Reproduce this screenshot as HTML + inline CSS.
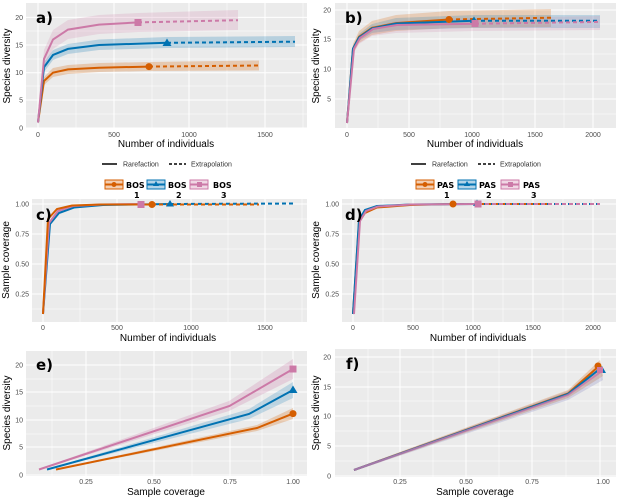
<!DOCTYPE html>
<html><head><meta charset="utf-8"><style>
body{margin:0;background:#fff}
svg{display:block;font-family:"Liberation Sans",sans-serif}
.t{font-size:7px;fill:#4d4d4d}
.at{font-size:10px;fill:#000}
.lb{font-size:15px;font-weight:bold;fill:#000;font-family:"DejaVu Sans",sans-serif}
.bg{fill:#ebebeb}
.g{stroke:#fff;stroke-width:1}
.gm{stroke:#fff;stroke-width:.5}
.o{stroke:#D55E00}.b{stroke:#0072B2}.p{stroke:#CC79A7}
path.l{fill:none;stroke-width:2}
.d{stroke-dasharray:4,3}
</style></head><body>
<svg width="619" height="503" viewBox="0 0 619 503">
<!-- Panel a -->
<rect class="bg" x="26" y="3" width="281" height="125"/>
<g class="gm"><line x1="26" x2="307" y1="114" y2="114"/><line x1="26" x2="307" y1="86" y2="86"/><line x1="26" x2="307" y1="59" y2="59"/><line x1="26" x2="307" y1="31" y2="31"/><line x1="76" x2="76" y1="3" y2="128"/><line x1="152" x2="152" y1="3" y2="128"/><line x1="227" x2="227" y1="3" y2="128"/><line x1="303" x2="303" y1="3" y2="128"/></g>
<g class="g"><line x1="26" x2="307" y1="128" y2="128"/><line x1="26" x2="307" y1="100" y2="100"/><line x1="26" x2="307" y1="72.7" y2="72.7"/><line x1="26" x2="307" y1="45" y2="45"/><line x1="26" x2="307" y1="17.4" y2="17.4"/><line x1="38" x2="38" y1="3" y2="128"/><line x1="114" x2="114" y1="3" y2="128"/><line x1="189" x2="189" y1="3" y2="128"/><line x1="265" x2="265" y1="3" y2="128"/></g>
<path d="M38,120 L44,77 L53,68 L68,65 L99,63 L149,62 L259,60.5 L259,70.5 L149,71 L99,72 L68,74 L53,77 L44,85 L38,124Z" fill="#D55E00" opacity=".25"/>
<path d="M38,120 L44,62 L53,50 L68,44 L99,39.5 L167,37 L295,36 L295,47 L167,48 L99,50 L68,54 L53,60 L44,72 L38,124Z" fill="#0072B2" opacity=".22"/>
<path d="M38,120 L44,50 L53,30 L68,20 L99,15 L138,13 L238,10 L238,30 L138,32 L99,34 L68,39 L53,49 L44,67 L38,124Z" fill="#CC79A7" opacity=".2"/>
<path class="l o" d="M38,122.5 L44,81 L53,72.7 L68,69.4 L99,67.7 L149,66.6"/><path class="l o d" d="M149,66.6 L259,65.5"/>
<path class="l b" d="M38,122.5 L44,67.2 L53,55 L68,48.9 L99,45 L167,42.8"/><path class="l b d" d="M167,42.8 L295,41.7"/>
<path class="l p" d="M38,122.5 L44,58.9 L53,39.5 L68,29.6 L99,24.6 L138,22.4"/><path class="l p d" d="M138,22.4 L238,20.2"/>
<circle cx="149" cy="66.6" r="3.5" fill="#D55E00"/><path d="M167,38.5 L171.5,46 L162.5,46Z" fill="#0072B2"/><rect x="134.5" y="19" width="7" height="7" fill="#CC79A7"/>
<text class="lb" x="36" y="23">a)</text>
<g class="t" text-anchor="end"><text x="23" y="130.5">0</text><text x="23" y="102.5">5</text><text x="23" y="75">10</text><text x="23" y="47.5">15</text><text x="23" y="20">20</text></g>
<g class="t" text-anchor="middle"><text x="38" y="137">0</text><text x="114" y="137">500</text><text x="189" y="137">1000</text><text x="265" y="137">1500</text></g>
<text class="at" x="166" y="147" text-anchor="middle">Number of individuals</text>
<text class="at" transform="translate(10,66) rotate(-90)" text-anchor="middle">Species diversity</text>
<!-- legend a -->
<line x1="102" x2="117" y1="164" y2="164" stroke="#000" stroke-width="1.5"/><text class="t" x="123" y="166.5" style="fill:#333">Rarefaction</text>
<line x1="169" x2="186" y1="164" y2="164" stroke="#000" stroke-width="1.5" stroke-dasharray="3,2"/><text class="t" x="191" y="166.5" style="fill:#333">Extrapolation</text>
<g font-size="8" font-weight="bold" font-family="DejaVu Sans,sans-serif">
<rect x="105" y="180" width="18" height="9" fill="#D55E00" fill-opacity=".3" stroke="#D55E00"/><line x1="105" x2="123" y1="184.5" y2="184.5" stroke="#D55E00" stroke-width="2"/><circle cx="114" cy="184.5" r="2.5" fill="#D55E00"/><text x="126" y="188">BOS</text><text x="134" y="198">1</text>
<rect x="147" y="180" width="18" height="9" fill="#0072B2" fill-opacity=".3" stroke="#0072B2"/><line x1="147" x2="165" y1="184.5" y2="184.5" stroke="#0072B2" stroke-width="2"/><path d="M156,181 L159,186 L153,186Z" fill="#0072B2"/><text x="168" y="188">BOS</text><text x="176" y="198">2</text>
<rect x="190" y="180" width="18" height="9" fill="#CC79A7" fill-opacity=".3" stroke="#CC79A7"/><line x1="190" x2="208" y1="184.5" y2="184.5" stroke="#CC79A7" stroke-width="2"/><rect x="197" y="182" width="5" height="5" fill="#CC79A7"/><text x="213" y="188">BOS</text><text x="221" y="198">3</text>
</g>
<!-- Panel b -->
<rect class="bg" x="335" y="3" width="281" height="125"/>
<g class="gm"><line x1="335" x2="616" y1="114" y2="114"/><line x1="335" x2="616" y1="84" y2="84"/><line x1="335" x2="616" y1="54" y2="54"/><line x1="335" x2="616" y1="24" y2="24"/><line x1="378" x2="378" y1="3" y2="128"/><line x1="440" x2="440" y1="3" y2="128"/><line x1="503" x2="503" y1="3" y2="128"/><line x1="564" x2="564" y1="3" y2="128"/></g>
<g class="g"><line x1="335" x2="616" y1="99" y2="99"/><line x1="335" x2="616" y1="69" y2="69"/><line x1="335" x2="616" y1="39" y2="39"/><line x1="335" x2="616" y1="10" y2="10"/><line x1="347" x2="347" y1="3" y2="128"/><line x1="409" x2="409" y1="3" y2="128"/><line x1="472" x2="472" y1="3" y2="128"/><line x1="535" x2="535" y1="3" y2="128"/><line x1="593" x2="593" y1="3" y2="128"/></g>
<path d="M347,121 L353,44 L359,31 L372,21 L396,15 L449,11 L551,9 L551,27 L449,28 L396,31 L372,35 L359,43 L353,54 L347,124Z" fill="#D55E00" opacity=".22"/>
<path d="M347,121 L353,46 L359,34 L372,24 L396,18 L474,15 L600,15 L600,28 L474,28 L396,30 L372,33 L359,41 L353,52 L347,124Z" fill="#0072B2" opacity=".2"/>
<path d="M347,121 L353,48 L359,37 L372,27 L396,21 L475,18 L600,16 L600,30 L475,31 L396,33 L372,36 L359,44 L353,54 L347,124Z" fill="#CC79A7" opacity=".18"/>
<path class="l o" d="M347,123 L353,48.7 L359,36.8 L372,27.8 L396,23.1 L449,19.5"/><path class="l o d" d="M449,19.5 L551,17.7"/>
<path class="l b" d="M347,123 L353,48.7 L359,37.5 L372,28.5 L396,23.5 L474,20.7"/><path class="l b d" d="M474,20.7 L600,20.7"/>
<path class="l p" d="M347,123 L354,48.7 L360,38 L373,29 L397,25 L475,23.7"/><path class="l p d" d="M475,23.7 L600,21.9"/>
<circle cx="449" cy="19.5" r="3.5" fill="#D55E00"/><path d="M474,16.5 L478,23 L470,23Z" fill="#0072B2"/><rect x="471.5" y="20" width="7" height="7" fill="#CC79A7"/>
<text class="lb" x="345" y="23">b)</text>
<g class="t" text-anchor="end"><text x="331" y="101.5">5</text><text x="331" y="71.5">10</text><text x="331" y="41.5">15</text><text x="331" y="12.5">20</text></g>
<g class="t" text-anchor="middle"><text x="347" y="137">0</text><text x="409" y="137">500</text><text x="472" y="137">1000</text><text x="535" y="137">1500</text><text x="593" y="137">2000</text></g>
<text class="at" x="475" y="147" text-anchor="middle">Number of individuals</text>
<text class="at" transform="translate(319,66) rotate(-90)" text-anchor="middle">Species diversity</text>
<line x1="411" x2="426" y1="164" y2="164" stroke="#000" stroke-width="1.5"/><text class="t" x="432" y="166.5" style="fill:#333">Rarefaction</text>
<line x1="478" x2="495" y1="164" y2="164" stroke="#000" stroke-width="1.5" stroke-dasharray="3,2"/><text class="t" x="500" y="166.5" style="fill:#333">Extrapolation</text>
<g font-size="8" font-weight="bold" font-family="DejaVu Sans,sans-serif">
<rect x="416" y="180" width="18" height="9" fill="#D55E00" fill-opacity=".3" stroke="#D55E00"/><line x1="416" x2="434" y1="184.5" y2="184.5" stroke="#D55E00" stroke-width="2"/><circle cx="425" cy="184.5" r="2.5" fill="#D55E00"/><text x="437" y="188">PAS</text><text x="444" y="198">1</text>
<rect x="458" y="180" width="18" height="9" fill="#0072B2" fill-opacity=".3" stroke="#0072B2"/><line x1="458" x2="476" y1="184.5" y2="184.5" stroke="#0072B2" stroke-width="2"/><path d="M467,181 L470,186 L464,186Z" fill="#0072B2"/><text x="479" y="188">PAS</text><text x="486" y="198">2</text>
<rect x="501" y="180" width="18" height="9" fill="#CC79A7" fill-opacity=".3" stroke="#CC79A7"/><line x1="501" x2="519" y1="184.5" y2="184.5" stroke="#CC79A7" stroke-width="2"/><rect x="508" y="182" width="5" height="5" fill="#CC79A7"/><text x="523" y="188">PAS</text><text x="531" y="198">3</text>
</g>
<!-- Panel c -->
<rect class="bg" x="32" y="199" width="275" height="123"/>
<g class="gm"><line x1="32" x2="307" y1="309" y2="309"/><line x1="32" x2="307" y1="279" y2="279"/><line x1="32" x2="307" y1="249" y2="249"/><line x1="32" x2="307" y1="219" y2="219"/><line x1="80" x2="80" y1="199" y2="322"/><line x1="154" x2="154" y1="199" y2="322"/><line x1="228" x2="228" y1="199" y2="322"/><line x1="302" x2="302" y1="199" y2="322"/></g>
<g class="g"><line x1="32" x2="307" y1="294" y2="294"/><line x1="32" x2="307" y1="264" y2="264"/><line x1="32" x2="307" y1="234" y2="234"/><line x1="32" x2="307" y1="204" y2="204"/><line x1="43" x2="43" y1="199" y2="322"/><line x1="117" x2="117" y1="199" y2="322"/><line x1="191" x2="191" y1="199" y2="322"/><line x1="265" x2="265" y1="199" y2="322"/></g>
<path class="l b" d="M43,314 L50,224 L59,213 L74,207.5 L103,205 L170,204"/><path class="l b d" d="M170,204 L295,203.5"/>
<path class="l p" d="M43,314 L49,223 L58,211 L73,206 L102,204.5 L141,204"/>
<path class="l o" d="M43,314 L48,219 L57,209 L72,205.5 L101,204.5 L152,204.5"/><path class="l o d" d="M152,204.5 L259,204.5"/>
<circle cx="152" cy="204.5" r="3.5" fill="#D55E00"/><path d="M170,200 L174,206.5 L166,206.5Z" fill="#0072B2"/><rect x="137.5" y="201" width="7" height="7" fill="#CC79A7"/>
<text class="lb" x="36" y="220">c)</text>
<g class="t" text-anchor="end"><text x="29" y="296.5">0.25</text><text x="29" y="266.5">0.50</text><text x="29" y="236.5">0.75</text><text x="29" y="206.5">1.00</text></g>
<g class="t" text-anchor="middle"><text x="43" y="330">0</text><text x="117" y="330">500</text><text x="191" y="330">1000</text><text x="265" y="330">1500</text></g>
<text class="at" x="168" y="341" text-anchor="middle">Number of individuals</text>
<text class="at" transform="translate(9,260) rotate(-90)" text-anchor="middle">Sample coverage</text>
<!-- Panel d -->
<rect class="bg" x="342" y="199" width="274" height="123"/>
<g class="gm"><line x1="342" x2="616" y1="309" y2="309"/><line x1="342" x2="616" y1="279" y2="279"/><line x1="342" x2="616" y1="249" y2="249"/><line x1="342" x2="616" y1="219" y2="219"/><line x1="383" x2="383" y1="199" y2="322"/><line x1="443" x2="443" y1="199" y2="322"/><line x1="503" x2="503" y1="199" y2="322"/><line x1="563" x2="563" y1="199" y2="322"/></g>
<g class="g"><line x1="342" x2="616" y1="294" y2="294"/><line x1="342" x2="616" y1="264" y2="264"/><line x1="342" x2="616" y1="234" y2="234"/><line x1="342" x2="616" y1="204" y2="204"/><line x1="353" x2="353" y1="199" y2="322"/><line x1="413" x2="413" y1="199" y2="322"/><line x1="473" x2="473" y1="199" y2="322"/><line x1="533" x2="533" y1="199" y2="322"/><line x1="593" x2="593" y1="199" y2="322"/></g>
<path class="l o" d="M353,314 L359,222 L365,213 L377,207.5 L410,205 L453,204"/><path class="l o d" d="M453,204 L552,204"/>
<path class="l b" d="M353,314 L359,220 L365,210 L377,206 L410,204.5 L477,204"/><path class="l b d" d="M477,204 L600,204"/>
<path class="l p" d="M354,314 L360,221 L366,211 L378,206.5 L411,204.5 L478,204"/><path class="l p d" d="M478,204 L600,204"/>
<circle cx="453" cy="204" r="3.5" fill="#D55E00"/><path d="M477,199.5 L481,206 L473,206Z" fill="#0072B2"/><rect x="474.5" y="200.5" width="7" height="7" fill="#CC79A7"/>
<text class="lb" x="345" y="220">d)</text>
<g class="t" text-anchor="end"><text x="339" y="296.5">0.25</text><text x="339" y="266.5">0.50</text><text x="339" y="236.5">0.75</text><text x="339" y="206.5">1.00</text></g>
<g class="t" text-anchor="middle"><text x="353" y="330">0</text><text x="413" y="330">500</text><text x="473" y="330">1000</text><text x="533" y="330">1500</text><text x="593" y="330">2000</text></g>
<text class="at" x="478" y="341" text-anchor="middle">Number of individuals</text>
<text class="at" transform="translate(319,260) rotate(-90)" text-anchor="middle">Sample coverage</text>
<!-- Panel e -->
<rect class="bg" x="26" y="351" width="281" height="125"/>
<g class="gm"><line x1="26" x2="307" y1="461" y2="461"/><line x1="26" x2="307" y1="434" y2="434"/><line x1="26" x2="307" y1="406" y2="406"/><line x1="26" x2="307" y1="379" y2="379"/><line x1="52" x2="52" y1="351" y2="476"/><line x1="120" x2="120" y1="351" y2="476"/><line x1="192" x2="192" y1="351" y2="476"/><line x1="262" x2="262" y1="351" y2="476"/></g>
<g class="g"><line x1="26" x2="307" y1="475" y2="475"/><line x1="26" x2="307" y1="447" y2="447"/><line x1="26" x2="307" y1="420" y2="420"/><line x1="26" x2="307" y1="392" y2="392"/><line x1="26" x2="307" y1="365" y2="365"/><line x1="86" x2="86" y1="351" y2="476"/><line x1="154" x2="154" y1="351" y2="476"/><line x1="230" x2="230" y1="351" y2="476"/><line x1="293" x2="293" y1="351" y2="476"/></g>
<path d="M39,469 L229,401 L293,359 L293,379 L229,411 L39,470Z" fill="#CC79A7" opacity=".25"/>
<path d="M47,469 L249,409 L293,382 L293,398 L249,419 L47,470Z" fill="#0072B2" opacity=".2"/>
<path d="M56,469 L257,425 L293,408 L293,419 L257,431 L56,470Z" fill="#D55E00" opacity=".25"/>
<path class="l p" d="M39,469.5 L229.5,406 L293,369"/><path class="l b" d="M47,469.5 L249,414 L293,390"/><path class="l o" d="M56,469.5 L257,428 L293,413.6"/>
<circle cx="293" cy="413.6" r="3.5" fill="#D55E00"/><path d="M293,385.5 L297.5,393 L288.5,393Z" fill="#0072B2"/><rect x="289.5" y="365.5" width="7" height="7" fill="#CC79A7"/>
<text class="lb" x="36" y="370">e)</text>
<g class="t" text-anchor="end"><text x="23" y="477.5">0</text><text x="23" y="449.5">5</text><text x="23" y="422.5">10</text><text x="23" y="394.5">15</text><text x="23" y="367.5">20</text></g>
<g class="t" text-anchor="middle"><text x="86" y="484">0.25</text><text x="154" y="484">0.50</text><text x="230" y="484">0.75</text><text x="293" y="484">1.00</text></g>
<text class="at" x="166" y="495" text-anchor="middle">Sample coverage</text>
<text class="at" transform="translate(10,413) rotate(-90)" text-anchor="middle">Species diversity</text>
<!-- Panel f -->
<rect class="bg" x="335" y="349" width="281" height="128"/>
<g class="gm"><line x1="335" x2="616" y1="461" y2="461"/><line x1="335" x2="616" y1="431" y2="431"/><line x1="335" x2="616" y1="401" y2="401"/><line x1="335" x2="616" y1="372" y2="372"/><line x1="368" x2="368" y1="349" y2="477"/><line x1="433" x2="433" y1="349" y2="477"/><line x1="499" x2="499" y1="349" y2="477"/><line x1="566" x2="566" y1="349" y2="477"/></g>
<g class="g"><line x1="335" x2="616" y1="476" y2="476"/><line x1="335" x2="616" y1="446" y2="446"/><line x1="335" x2="616" y1="416" y2="416"/><line x1="335" x2="616" y1="387" y2="387"/><line x1="335" x2="616" y1="357" y2="357"/><line x1="400" x2="400" y1="349" y2="477"/><line x1="466" x2="466" y1="349" y2="477"/><line x1="532" x2="532" y1="349" y2="477"/><line x1="600" x2="600" y1="349" y2="477"/></g>
<path d="M354,469 L568,390 L600,360 L603,376 L568,398 L354,471Z" fill="#D55E00" opacity=".25"/>
<path d="M354,469 L568,391 L601,364 L603,380 L568,400 L354,471Z" fill="#8080c0" opacity=".25"/>
<path class="l o" d="M354,470 L568,393.5 L599,366"/><path class="l b" d="M354,470 L568,394 L601,368"/><path class="l p" d="M354,470 L568,395 L602,371" opacity=".8"/>
<circle cx="598" cy="366" r="3.5" fill="#D55E00"/><path d="M602,366 L606,373 L598,373Z" fill="#0072B2"/><rect x="597" y="367" width="6" height="6" fill="#CC79A7"/>
<text class="lb" x="346" y="369">f)</text>
<g class="t" text-anchor="end"><text x="331" y="478.5">0</text><text x="331" y="448.5">5</text><text x="331" y="418.5">10</text><text x="331" y="389.5">15</text><text x="331" y="359.5">20</text></g>
<g class="t" text-anchor="middle"><text x="400" y="484">0.25</text><text x="466" y="484">0.50</text><text x="532" y="484">0.75</text><text x="603" y="484">1.00</text></g>
<text class="at" x="475" y="495" text-anchor="middle">Sample coverage</text>
<text class="at" transform="translate(319,413) rotate(-90)" text-anchor="middle">Species diversity</text>
</svg>
</body></html>
